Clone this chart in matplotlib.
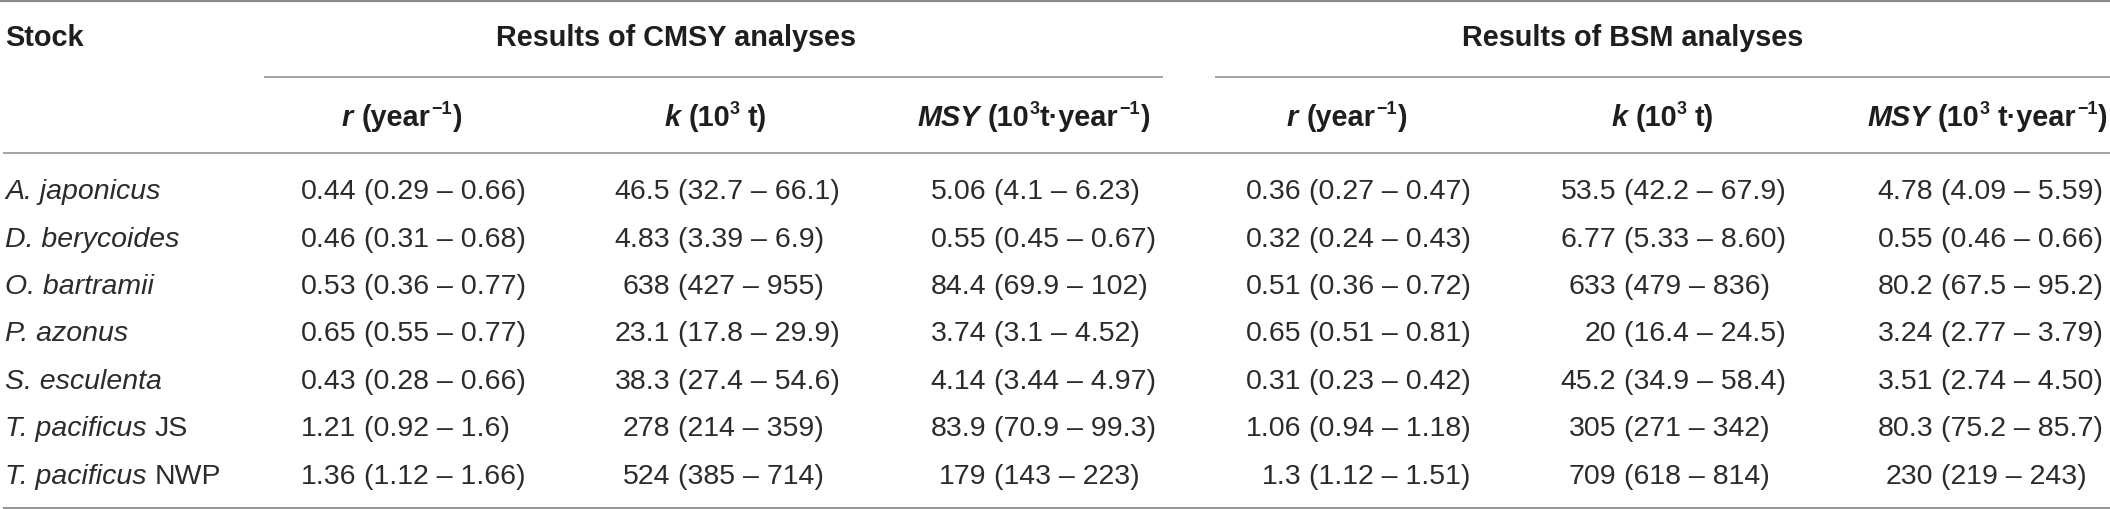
import matplotlib
matplotlib.use("Agg")
import matplotlib.pyplot as plt

plt.rcParams['font.family'] = ['Liberation Sans', 'DejaVu Sans']

# ---------------- data ----------------
stocks = ["A. japonicus", "D. berycoides", "O. bartramii", "P. azonus",
          "S. esculenta", "T. pacificus", "T. pacificus"]
stock_suffix = ["", "", "", "", "", "JS", "NWP"]

cmsy_r = ["0.44 (0.29 – 0.66)", "0.46 (0.31 – 0.68)", "0.53 (0.36 – 0.77)",
          "0.65 (0.55 – 0.77)", "0.43 (0.28 – 0.66)", "1.21 (0.92 – 1.6)",
          "1.36 (1.12 – 1.66)"]
cmsy_k = ["46.5 (32.7 – 66.1)", "4.83 (3.39 – 6.9)", "638 (427 – 955)",
          "23.1 (17.8 – 29.9)", "38.3 (27.4 – 54.6)", "278 (214 – 359)",
          "524 (385 – 714)"]
cmsy_msy = ["5.06 (4.1 – 6.23)", "0.55 (0.45 – 0.67)", "84.4 (69.9 – 102)",
            "3.74 (3.1 – 4.52)", "4.14 (3.44 – 4.97)", "83.9 (70.9 – 99.3)",
            "179 (143 – 223)"]
bsm_r = ["0.36 (0.27 – 0.47)", "0.32 (0.24 – 0.43)", "0.51 (0.36 – 0.72)",
         "0.65 (0.51 – 0.81)", "0.31 (0.23 – 0.42)", "1.06 (0.94 – 1.18)",
         "1.3 (1.12 – 1.51)"]
bsm_k = ["53.5 (42.2 – 67.9)", "6.77 (5.33 – 8.60)", "633 (479 – 836)",
         "20 (16.4 – 24.5)", "45.2 (34.9 – 58.4)", "305 (271 – 342)",
         "709 (618 – 814)"]
bsm_msy = ["4.78 (4.09 – 5.59)", "0.55 (0.46 – 0.66)", "80.2 (67.5 – 95.2)",
           "3.24 (2.77 – 3.79)", "3.51 (2.74 – 4.50)", "80.3 (75.2 – 85.7)",
           "230 (219 – 243)"]

group_titles = ["Results of CMSY analyses", "Results of BSM analyses"]
stock_title = "Stock"

# ---------------- layout ----------------
W, H = 2110, 509
fig = plt.figure(figsize=(W / 100, H / 100), dpi=100)
ax = fig.add_axes([0, 0, 1, 1])
ax.set_xlim(0, W)
ax.set_ylim(H, 0)
ax.axis('off')
renderer = fig.canvas.get_renderer()

BODY = 20.5
HEAD = 20.8
EM_B = BODY * 100 / 72
EM_H = HEAD * 100 / 72
TXT = '#1e1e1e'
BTXT = '#2b2b2b'
LINE = '#8c8c8c'


def draw_runs(x, y, runs, ha='left', color=TXT):
    """runs: list of (text, kwargs, raise_px, gap_px)"""
    placed = []
    cur = 0.0
    for text, kw, dy, gap in runs:
        cur += gap
        t = ax.text(x + cur, y - dy, text, ha='left', va='baseline',
                    color=color, **kw)
        bb = t.get_window_extent(renderer)
        w = bb.x1 - (x + cur)
        placed.append((t, cur))
        cur += w
    shift = {'left': 0.0, 'center': -cur / 2, 'right': -cur}[ha]
    for t, off in placed:
        t.set_x(x + off + shift)


bold = dict(fontsize=HEAD, fontweight='bold')
bi = dict(fontsize=HEAD, fontweight='bold', fontstyle='italic')
sup = dict(fontsize=HEAD * 0.62, fontweight='bold')
SP = 0.278 * EM_H
RAISE = 0.40 * EM_H

# horizontal rules
ax.plot([0, W], [1, 1], color=LINE, lw=1.6, solid_capstyle='butt')
ax.plot([264, 1163], [77, 77], color=LINE, lw=1.1, solid_capstyle='butt')
ax.plot([1215, W], [77, 77], color=LINE, lw=1.1, solid_capstyle='butt')
ax.plot([3, W], [152.5, 152.5], color=LINE, lw=1.1, solid_capstyle='butt')
ax.plot([3, W], [507.5, 507.5], color=LINE, lw=1.3, solid_capstyle='butt')

# top header
HB1 = 46
ax.text(5, HB1, stock_title, ha='left', va='baseline', color=TXT, **bold)
ax.text(676, HB1, group_titles[0], ha='center', va='baseline', color=TXT, **bold)
ax.text(1633, HB1, group_titles[1], ha='center', va='baseline', color=TXT, **bold)

# sub headers
HB2 = 126
def r_head(xc):
    draw_runs(xc, HB2, [("r", bi, 0, 0), ("(year", bold, 0, SP),
                        ("−1", sup, RAISE, 1), (")", bold, 0, 1)], ha='center')

def k_head(xc):
    draw_runs(xc, HB2, [("k", bi, 0, 0), ("(10", bold, 0, SP),
                        ("3", sup, RAISE, -0.5), ("t)", bold, 0, SP)], ha='center')

def msy_head(xc, space, ha='center'):
    draw_runs(xc, HB2, [("MSY", bi, 0, 0), ("(10", bold, 0, SP),
                        ("3", sup, RAISE, -0.5),
                        ("t·year", bold, 0, SP if space else 0.5),
                        ("−1", sup, RAISE, 1), (")", bold, 0, 1)], ha=ha)

r_head(402)
k_head(716)
msy_head(1034, False)
r_head(1347)
k_head(1663)
msy_head(2108, True, ha='right')

# body rows
row_centers = [189.2, 236.6, 283.9, 331.3, 378.7, 426.0, 473.4]
DIG = 0.716 * EM_B
norm = dict(fontsize=BODY)
ital = dict(fontsize=BODY, fontstyle='italic')

columns = [cmsy_r, cmsy_k, cmsy_msy, bsm_r, bsm_k, bsm_msy]
paren_x = [364, 678, 994, 1309, 1624, 1941]
SPB = 0.278 * EM_B

for i, yc in enumerate(row_centers):
    yb = yc + DIG / 2
    runs = [(stocks[i], ital, 0, 0)]
    if stock_suffix[i]:
        runs.append((stock_suffix[i], norm, 0, SPB))
    draw_runs(5, yb, runs, ha='left', color=BTXT)
    for col, px in zip(columns, paren_x):
        est, rest = col[i].split(" ", 1)
        ax.text(px - SPB, yb, est, ha='right', va='baseline', color=BTXT, **norm)
        ax.text(px, yb, rest, ha='left', va='baseline', color=BTXT, **norm)

fig.savefig("out.png", dpi=100, facecolor='white')
